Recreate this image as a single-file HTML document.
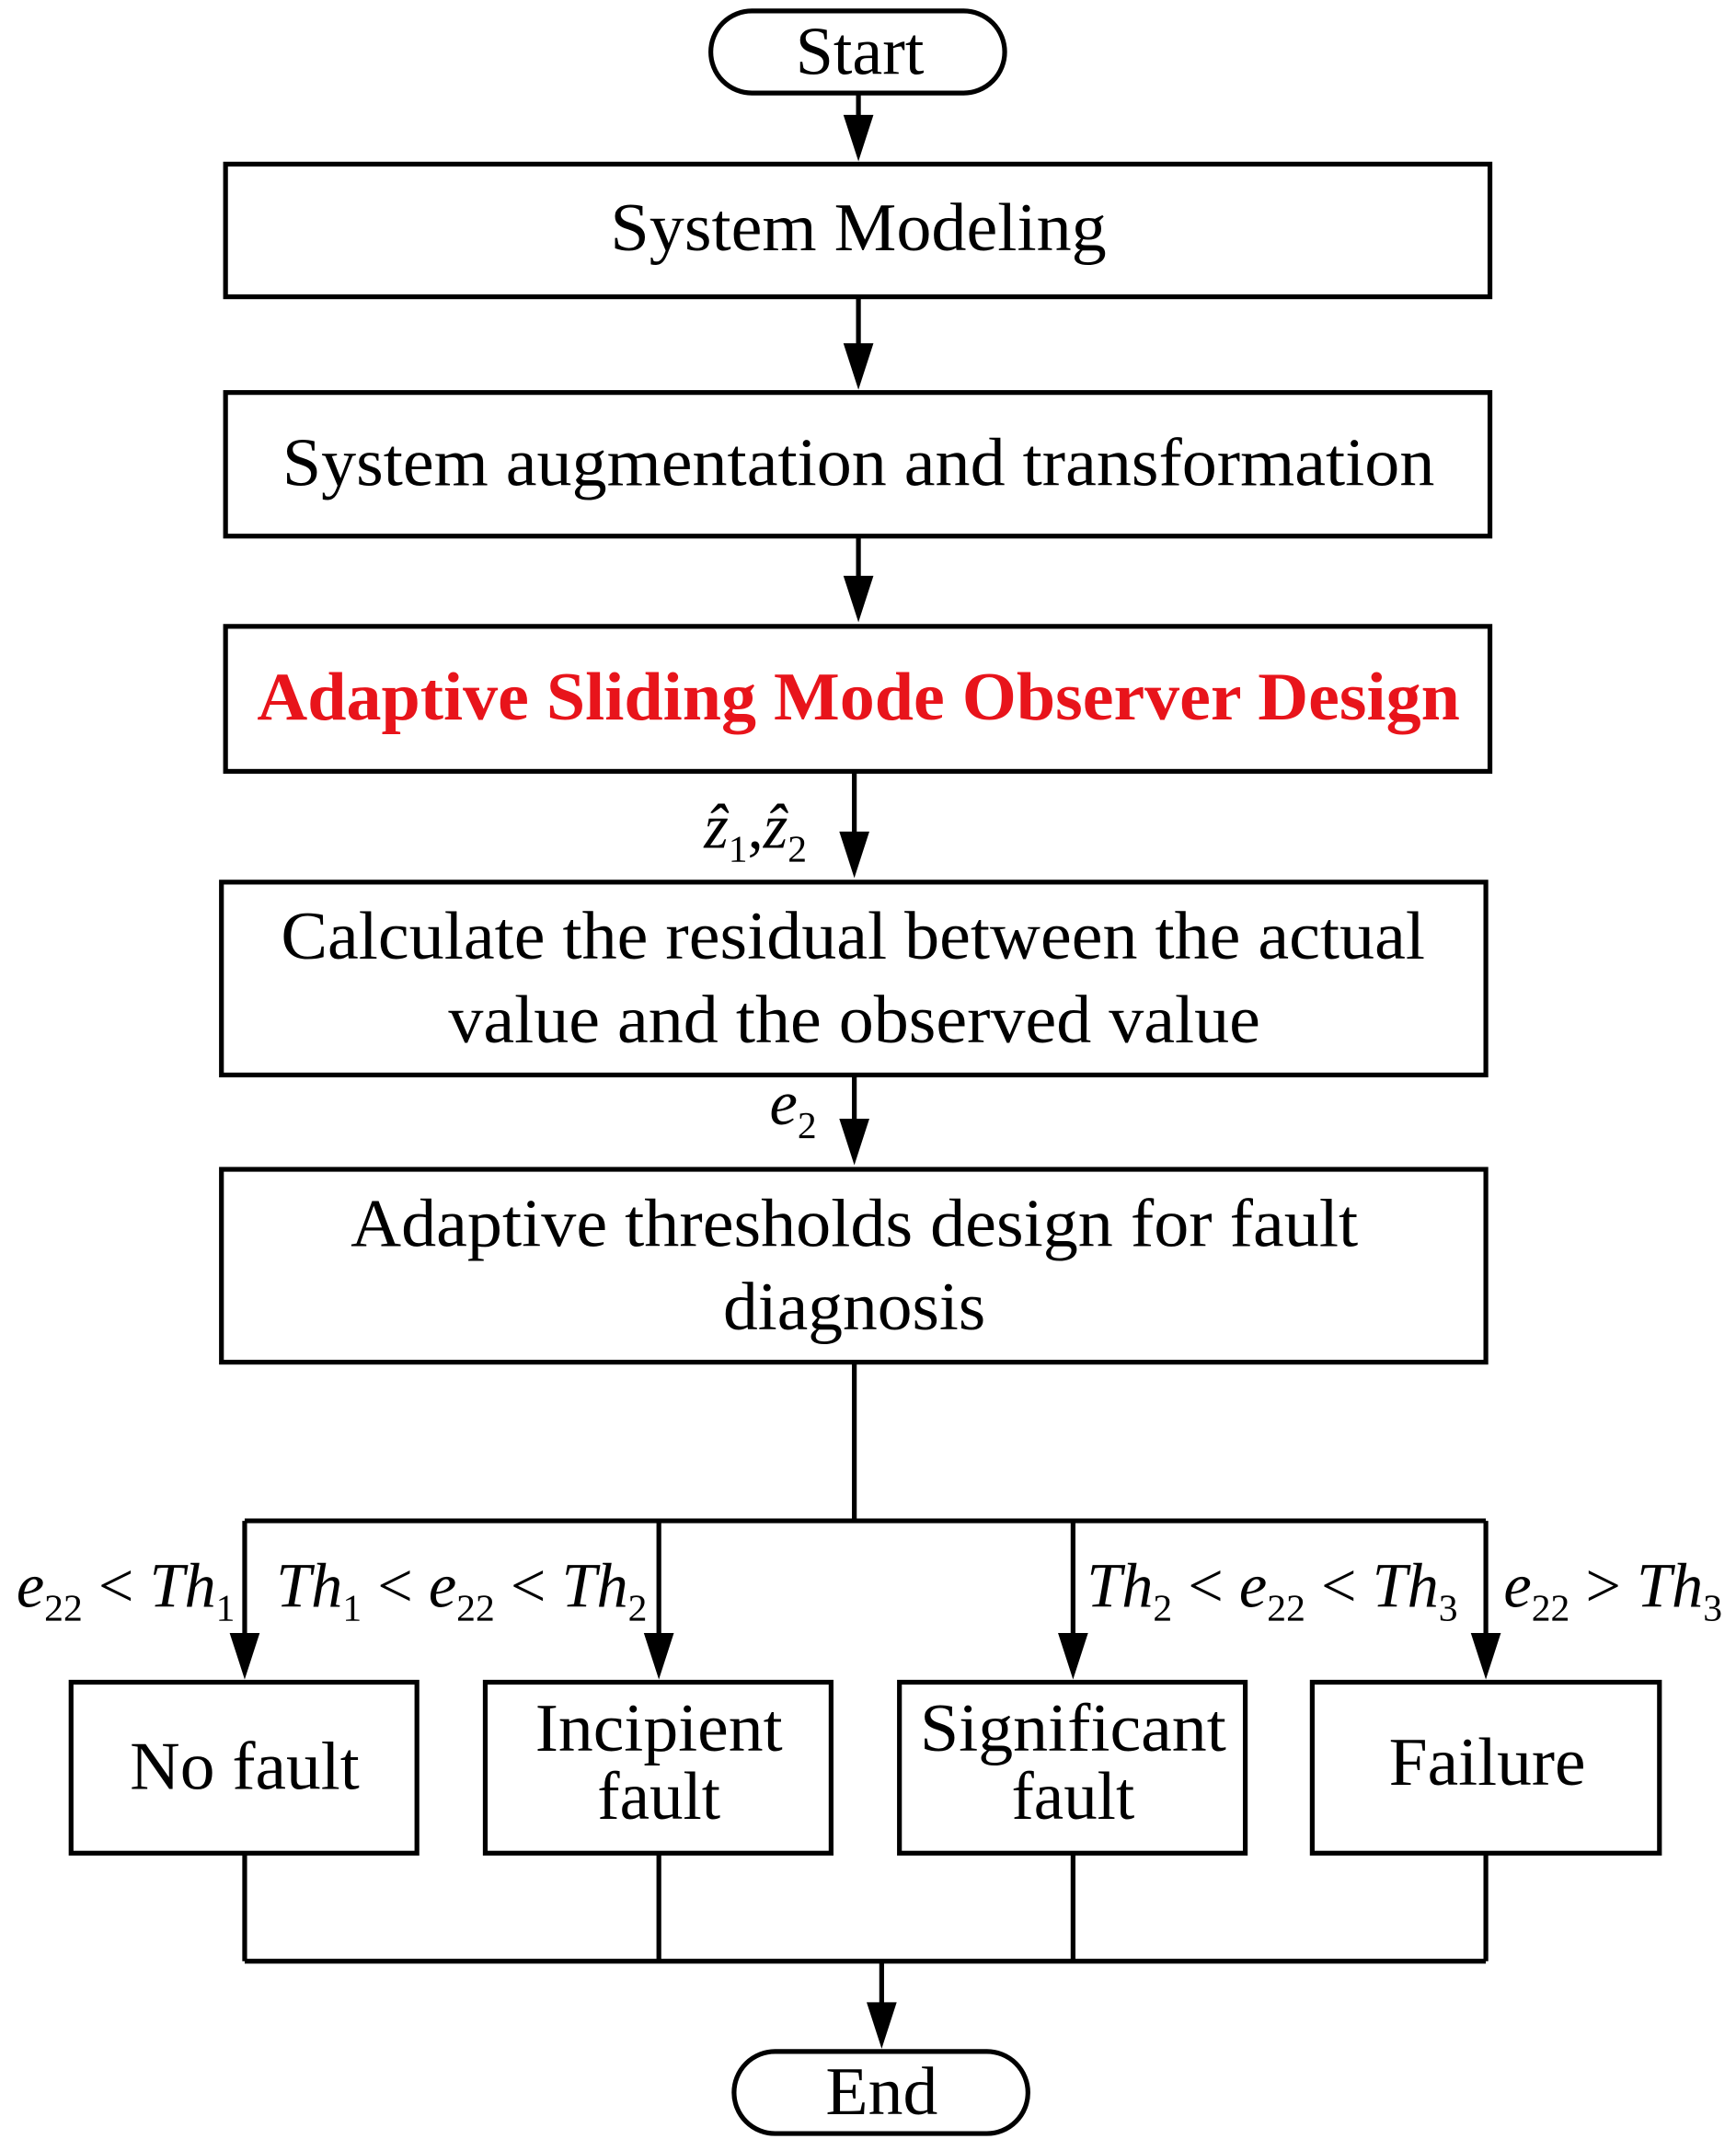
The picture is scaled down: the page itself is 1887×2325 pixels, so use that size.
<!DOCTYPE html>
<html><head><meta charset="utf-8"><style>
html,body{margin:0;padding:0;background:#fff}
svg{display:block}
text{font-family:"Liberation Serif",serif;fill:#000}
.i{font-style:italic}
</style></head><body>
<svg width="1887" height="2325" viewBox="0 0 1270 1564" preserveAspectRatio="none" xmlns="http://www.w3.org/2000/svg">
<g stroke="#000" stroke-width="3.5" fill="none">
<rect x="520" y="8" width="215" height="60" rx="30"/>
<rect x="165" y="120" width="925" height="97"/>
<rect x="165" y="287" width="925" height="105"/>
<rect x="165" y="458" width="925" height="106"/>
<rect x="162" y="645" width="925" height="141"/>
<rect x="162" y="855" width="925" height="141"/>
<rect x="52" y="1230" width="253" height="125"/>
<rect x="355" y="1230" width="253" height="125"/>
<rect x="658" y="1230" width="253" height="125"/>
<rect x="960" y="1230" width="254" height="125"/>
<rect x="537" y="1500" width="215" height="60" rx="30"/>
<path d="M628 68V90M628 217V255M628 392V425M625 564V612M625 786V822M625 996V1112M179 1112H1087M179 1112V1198M482 1112V1198M785 1112V1198M1087 1112V1198M179 1355V1434M482 1355V1434M785 1355V1434M1087 1355V1434M179 1434H1087M645 1434V1468"/>
</g>
<g fill="#000">
<path d="M617 84L639 84L628 118Z"/>
<path d="M617 251L639 251L628 285Z"/>
<path d="M617 421L639 421L628 455Z"/>
<path d="M614 608L636 608L625 642Z"/>
<path d="M614 818L636 818L625 852Z"/>
<path d="M168 1194L190 1194L179 1228Z"/>
<path d="M471 1194L493 1194L482 1228Z"/>
<path d="M774 1194L796 1194L785 1228Z"/>
<path d="M1076 1194L1098 1194L1087 1228Z"/>
<path d="M634 1464L656 1464L645 1498Z"/>
</g>
<g font-size="50" text-anchor="middle" lengthAdjust="spacingAndGlyphs">
<text x="629" y="54" textLength="94" lengthAdjust="spacingAndGlyphs">Start</text>
<text x="628" y="183" textLength="363" lengthAdjust="spacingAndGlyphs">System Modeling</text>
<text x="628" y="355" textLength="843" lengthAdjust="spacingAndGlyphs">System augmentation and transformation</text>
<text x="628" y="526" font-weight="bold" style="fill:#e8141b" textLength="880" lengthAdjust="spacingAndGlyphs">Adaptive Sliding Mode Observer Design</text>
<text x="624" y="701" textLength="837" lengthAdjust="spacingAndGlyphs">Calculate the residual between the actual</text>
<text x="625" y="762" textLength="594" lengthAdjust="spacingAndGlyphs">value and the observed value</text>
<text x="625" y="911" textLength="737" lengthAdjust="spacingAndGlyphs">Adaptive thresholds design for fault</text>
<text x="625" y="972" textLength="192" lengthAdjust="spacingAndGlyphs">diagnosis</text>
<text x="179" y="1308" textLength="168" lengthAdjust="spacingAndGlyphs">No fault</text>
<text x="482" y="1280" textLength="181" lengthAdjust="spacingAndGlyphs">Incipient</text>
<text x="482" y="1330" textLength="90" lengthAdjust="spacingAndGlyphs">fault</text>
<text x="785" y="1280" textLength="224" lengthAdjust="spacingAndGlyphs">Significant</text>
<text x="785" y="1330" textLength="90" lengthAdjust="spacingAndGlyphs">fault</text>
<text x="1088" y="1305" textLength="144" lengthAdjust="spacingAndGlyphs">Failure</text>
<text x="645" y="1546" textLength="82" lengthAdjust="spacingAndGlyphs">End</text>
</g>
<g font-size="46">
<text x="515" y="620" class="i">ẑ<tspan font-size="28" font-style="normal" dy="10">1</tspan><tspan dy="-10" font-style="normal">,</tspan>ẑ<tspan font-size="28" font-style="normal" dy="10">2</tspan></text>
<text x="563" y="822" class="i">e<tspan font-size="28" font-style="normal" dy="10">2</tspan></text>
<text x="12" y="1175"><tspan class="i">e</tspan><tspan font-size="28" dy="10">22</tspan><tspan dy="-10"> &lt; </tspan><tspan class="i">Th</tspan><tspan font-size="28" dy="10">1</tspan></text>
<text x="202" y="1175"><tspan class="i">Th</tspan><tspan font-size="28" dy="10">1</tspan><tspan dy="-10"> &lt; </tspan><tspan class="i">e</tspan><tspan font-size="28" dy="10">22</tspan><tspan dy="-10"> &lt; </tspan><tspan class="i">Th</tspan><tspan font-size="28" dy="10">2</tspan></text>
<text x="795" y="1175"><tspan class="i">Th</tspan><tspan font-size="28" dy="10">2</tspan><tspan dy="-10"> &lt; </tspan><tspan class="i">e</tspan><tspan font-size="28" dy="10">22</tspan><tspan dy="-10"> &lt; </tspan><tspan class="i">Th</tspan><tspan font-size="28" dy="10">3</tspan></text>
<text x="1100" y="1175"><tspan class="i">e</tspan><tspan font-size="28" dy="10">22</tspan><tspan dy="-10"> &gt; </tspan><tspan class="i">Th</tspan><tspan font-size="28" dy="10">3</tspan></text>
</g>
</svg>
</body></html>
